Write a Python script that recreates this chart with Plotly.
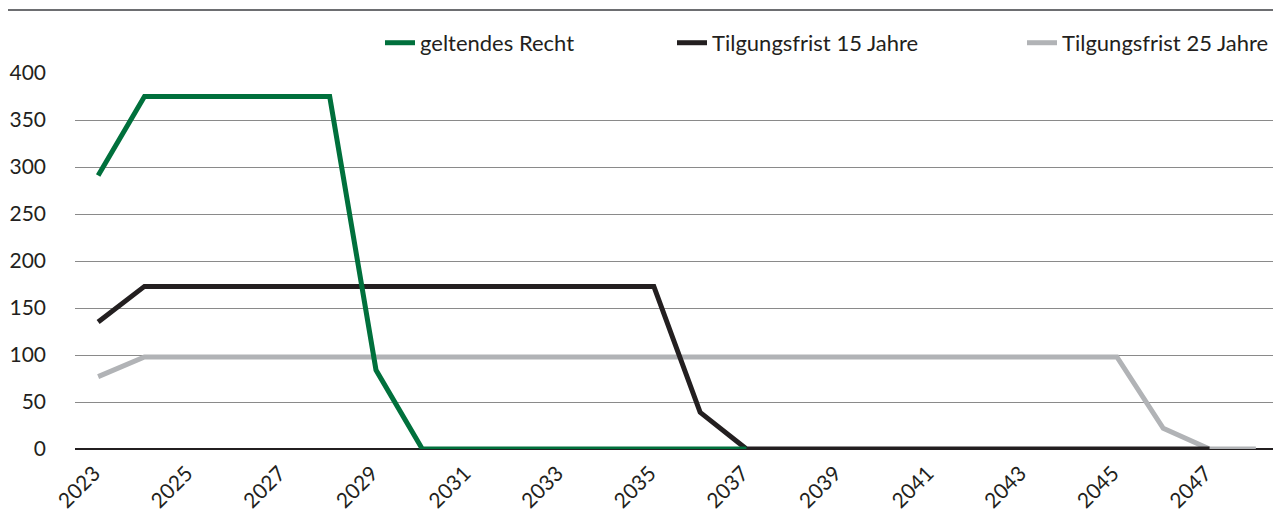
import plotly.graph_objects as go

years = [str(y) for y in range(2023, 2049)]
geltendes_recht = [291, 375, 375, 375, 375, 375, 84, 0, 0, 0, 0, 0, 0, 0, 0]
tilgung_15 = [135] + [173] * 12 + [39] + [0] * 11
tilgung_25 = [77] + [98] * 22 + [22, 0, 0]
tick_years = [str(y) for y in range(2023, 2048, 2)]
y_ticks = [0, 50, 100, 150, 200, 250, 300, 350, 400]

FONT = "Lato, Noto Sans, sans-serif"
# the page body has an 8px margin; figure coordinates are screen - 8
OFF = 8
PLOT_L, PLOT_W = 75 - OFF, 1204


def px_to_paper(screen_px):
    return (screen_px - OFF - PLOT_L) / PLOT_W


fig = go.Figure()
fig.add_trace(go.Scatter(x=years[:len(tilgung_25)], y=tilgung_25, mode="lines",
                         name="Tilgungsfrist 25 Jahre", legend="legend3",
                         line=dict(color="#b1b3b6", width=5)))
fig.add_trace(go.Scatter(x=years[:len(tilgung_15)], y=tilgung_15, mode="lines",
                         name="Tilgungsfrist 15 Jahre", legend="legend2",
                         line=dict(color="#231f20", width=5)))
fig.add_trace(go.Scatter(x=years[:len(geltendes_recht)], y=geltendes_recht, mode="lines",
                         name="geltendes Recht", legend="legend",
                         line=dict(color="#00703c", width=5)))

leg_common = dict(orientation="h", yanchor="middle", y=1.08, xanchor="left",
                  font=dict(size=22, family=FONT, color="#231f20"),
                  bgcolor="rgba(0,0,0,0)", borderwidth=0)

fig.update_layout(
    width=1281 - OFF, height=522 - OFF,
    margin=dict(l=PLOT_L, r=2, t=73 - OFF, b=73, autoexpand=False),
    paper_bgcolor="white", plot_bgcolor="white",
    font=dict(family=FONT, size=20, color="#231f20"),
    showlegend=True,
    legend=dict(x=px_to_paper(420 - 40), **leg_common),
    legend2=dict(x=px_to_paper(712 - 40), **leg_common),
    legend3=dict(x=px_to_paper(1062 - 40), **leg_common),
    xaxis=dict(type="category", categoryorder="array", categoryarray=years,
               range=[-0.5, len(years) - 0.5], automargin=False,
               tickmode="array", tickvals=tick_years, ticktext=tick_years,
               tickangle=-45, showgrid=False, showline=False, zeroline=False,
               ticks="", tickfont=dict(size=21),
               ticklabelstandoff=7, ticklabelshift=-4),
    yaxis=dict(range=[0, 400], tickvals=y_ticks, showgrid=True, gridcolor="#8a8a8a",
               gridwidth=1, zeroline=True, zerolinecolor="#231f20", zerolinewidth=2,
               showline=False, ticks="", ticklabelstandoff=28, automargin=False,
               tickfont=dict(size=21)),
)
fig.add_shape(type="line", xref="paper", yref="paper", x0=px_to_paper(8), x1=1.002,
              y0=1.1676, y1=1.1676, line=dict(color="#6d6e71", width=2))

fig.write_html("out.html")
